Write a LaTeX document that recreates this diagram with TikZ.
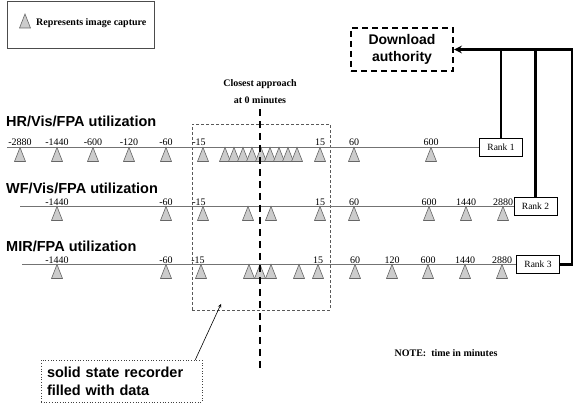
\documentclass[tikz,border=0pt]{standalone}
\usepackage{fontspec}
\setmainfont{Liberation Serif}
\setsansfont{Liberation Sans}
\usetikzlibrary{shapes,arrows,positioning}

\begin{document}
\begin{tikzpicture}[>=stealth,x=1pt,y=-1pt,font=\fontsize{10}{12}\selectfont]

    % Define node styles
    \tikzstyle{rank} = [draw, rectangle, minimum width=43pt, minimum height=18pt, inner sep=0pt, text centered, font=\fontsize{9.5}{11}\selectfont]
    \tikzstyle{heading} = [anchor=west, inner sep=0pt, font=\sffamily\bfseries\fontsize{14.5}{16}\selectfont]
    \tikzstyle{tick} = [anchor=south, inner sep=1.2pt]
    \tikzstyle{timeline} = [draw=black!55, line width=0.8pt]
    \tikzstyle{capture} = [draw=black!60, fill=black!20, line width=0.6pt]
    \tikzstyle{feed} = [line width=2.4pt]
    \tikzstyle{dlbox} = [draw, dashed, dash pattern=on 6pt off 4pt, line width=2.2pt, minimum width=102pt, minimum height=43pt, align=center, font=\sffamily\bfseries\fontsize{14}{17}\selectfont]
    \tikzstyle{ssrbox} = [draw=black!75, dotted, line width=0.7pt, minimum height=42pt, text width=149pt, inner xsep=6pt, align=left, font=\sffamily\bfseries\fontsize{14.5}{18}\selectfont]
    \tikzstyle{region} = [draw=black!65, dashed, dash pattern=on 3pt off 2pt, line width=0.7pt, minimum width=138pt, minimum height=186pt]
    \tikzstyle{bold} = [font=\bfseries\fontsize{10}{12}\selectfont]

    \useasboundingbox (0,0) rectangle (576,403);

    % Legend
    \node [draw=black!70, line width=0.7pt, minimum width=147pt, minimum height=47pt] (key) at (80.5,24.5) {};
    \node [bold, anchor=west, inner sep=0pt] (keytext) at (36,23) {Represents image capture};
    \draw [capture] (25,14) -- ++(-5.5,14) -- ++(11,0) -- cycle;

    % Draw nodes
    \node [dlbox] (dl) at (402,49.5) {Download\\authority};
    \node [bold] (closest) at (260,84) {Closest approach};
    \node [bold] (zero) at (260,100) {at 0 minutes};
    \node [region] (zone) at (261,217) {};
    \node [ssrbox] (ssr) at (121.5,381) {solid state recorder\\filled with data};
    \node [bold] (note) at (446,353) {NOTE:\ \ time in minutes};

    \node [heading] (hr) at (6,121) {HR/Vis/FPA utilization};
    \node [heading] (wf) at (6,188) {WF/Vis/FPA utilization};
    \node [heading] (mir) at (6,246) {MIR/FPA utilization};

    \node [rank] (rank1) at (501,147.5) {Rank 1};
    \node [rank] (rank2) at (535.5,206.5) {Rank 2};
    \node [rank] (rank3) at (538,264.5) {Rank 3};

    \coordinate (start1) at (7,147.5);
    \coordinate (start2) at (20,206.5);
    \coordinate (start3) at (22,264.5);

    % Time lines
    \draw [timeline] (start1) -- (rank1.west);
    \draw [timeline] (start2) -- (rank2.west);
    \draw [timeline] (start3) -- (rank3.west);

    % Image captures
    \foreach \x in {20,57,93,129,166,203,225,234,243,252,261,270,279,288,297,320,354,431}
        \draw [capture] (\x,147.5) -- ++(-5.5,14) -- ++(11,0) -- cycle;
    \foreach \x in {57,166,203,248,271,320,354,429,466,503}
        \draw [capture] (\x,206.5) -- ++(-5.5,14) -- ++(11,0) -- cycle;
    \foreach \x in {57,166,201,249,260,271,299,318,355,392,428,465,502}
        \draw [capture] (\x,264.5) -- ++(-5.5,14) -- ++(11,0) -- cycle;

    % Time labels
    \foreach \x/\t in {20/-2880,57/-1440,93/-600,129/-120,166/-60,199/-15,320/15,354/60,431/600}
        \node [tick] (a\x) at (\x,147.5) {\t};
    \foreach \x/\t in {57/-1440,166/-60,199/-15,320/15,354/60,429/600,466/1440,503/2880}
        \node [tick] (b\x) at (\x,206.5) {\t};
    \foreach \x/\t in {57/-1440,166/-60,198/-15,318/15,355/60,392/120,428/600,465/1440,502/2880}
        \node [tick] (c\x) at (\x,264.5) {\t};

    % Closest approach
    \coordinate (ctop) at (260,109);
    \coordinate (cbot) at (260,372);
    \draw [line width=2.2pt, dash pattern=on 7pt off 5pt] (ctop) -- (cbot);

    % Draw arrows
    \coordinate (bend) at (572,49.5);
    \draw [feed, ->] (rank3.east) -| (bend) -- (dl.east);
    \draw [feed] (rank1.north) -- (rank1.north |- bend);
    \draw [feed] (rank2.north) -- (rank2.north |- bend);

    \coordinate (ssrtip) at (221,304);
    \draw [->, line width=0.6pt] (ssr.north east) ++(-7,0) -- (ssrtip);

\end{tikzpicture}
\end{document}
